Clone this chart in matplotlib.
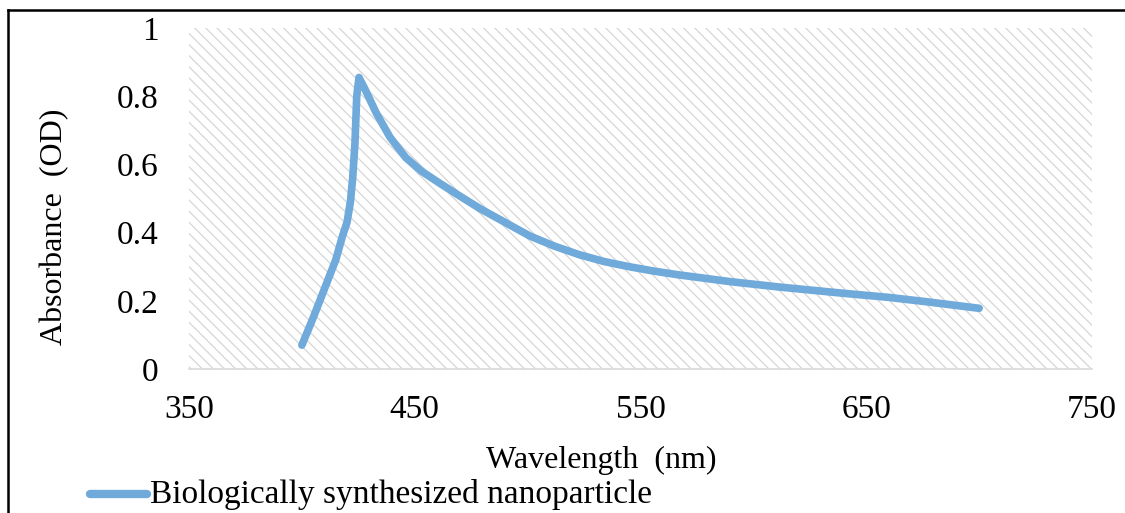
import numpy as np
import matplotlib
matplotlib.use('Agg')
import matplotlib.pyplot as plt
from matplotlib.patches import Rectangle
from matplotlib.lines import Line2D

plt.rcParams['font.family'] = ['Liberation Serif', 'DejaVu Serif']
plt.rcParams['hatch.linewidth'] = 0.9

wavelength = [400, 405, 410, 415, 418, 420, 421.5, 422.5, 423.5, 424.3, 425.3,
              428, 433, 439, 446, 453, 461, 470, 479, 490, 501, 512, 523, 534,
              545, 556, 567, 590, 612, 640, 660, 677, 700]
absorbance = [0.070, 0.15, 0.235, 0.32, 0.39, 0.43, 0.49, 0.56, 0.66, 0.80, 0.855,
              0.82, 0.75, 0.68, 0.62, 0.58, 0.545, 0.507, 0.47, 0.43, 0.39, 0.36,
              0.335, 0.315, 0.30, 0.287, 0.276, 0.256, 0.24, 0.222, 0.21, 0.197, 0.178]
series_name = "Biologically synthesized nanoparticle"
xticks = [350, 450, 550, 650, 750]
yticks = [0, 0.2, 0.4, 0.6, 0.8, 1]
ytick_labels = ["0", "0.2", "0.4", "0.6", "0.8", "1"]

line_color = '#6FAADB'

fig = plt.figure(figsize=(11.25, 5.13), dpi=100)
ax = fig.add_axes([189/1125, 1 - 369/513, (1092-189)/1125, (369-28)/513])

# hatched plot area
ax.add_patch(Rectangle((0, 0), 1, 1, transform=ax.transAxes, facecolor='white',
                       edgecolor='#d6d6d6', hatch='\\\\\\', lw=0, zorder=0))

ax.plot(wavelength, absorbance, color=line_color, lw=5.5,
        solid_capstyle='round', solid_joinstyle='round', zorder=3)

ax.set_xlim(350, 750)
ax.set_ylim(0, 1)
ax.set_xticks(xticks)
ax.set_yticks(yticks)
ax.set_yticklabels(ytick_labels)
ax.tick_params(length=0, labelsize=24)
ax.tick_params(axis='y', pad=22)
ax.tick_params(axis='x', pad=18)
for s in ['top', 'right', 'left']:
    ax.spines[s].set_visible(False)
ax.spines['bottom'].set_color('#d9d9d9')
ax.spines['bottom'].set_linewidth(1.2)

fig.text(55/1125, 1 - 227/513, 'Absorbance  (OD)', rotation=90, fontsize=23,
         ha='center', va='center')
fig.text(601/1125, 1 - 460/513, 'Wavelength  (nm)', fontsize=23,
         ha='center', va='center')

# legend at the bottom left
fig.add_artist(Line2D([90/1125, 147/1125], [1 - 494/513, 1 - 494/513],
                      color=line_color, lw=6, solid_capstyle='round'))
fig.text(150/1125, 1 - 494/513, series_name, fontsize=24, ha='left', va='center')

# chart frame (left and top edges)
fig.add_artist(Line2D([8/1125, 8/1125], [0, 1 - 10/513], color='black', lw=1.8))
fig.add_artist(Line2D([8/1125, 1], [1 - 10/513, 1 - 10/513], color='black', lw=1.8))

fig.savefig('out.png', dpi=100)
